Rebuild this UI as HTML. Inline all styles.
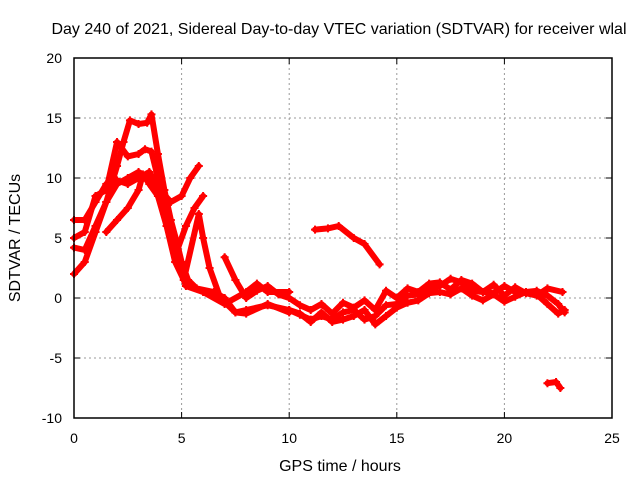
<!DOCTYPE html>
<html><head><meta charset="utf-8"><style>
body{margin:0;background:#fff}
svg{display:block;font-family:"Liberation Sans",sans-serif}
</style></head><body>
<svg id="c" width="640" height="480">
<text x="339" y="34" font-size="16" text-anchor="middle">Day 240 of 2021, Sidereal Day-to-day VTEC variation (SDTVAR) for receiver wlal</text>
<text x="340" y="471" font-size="16" text-anchor="middle">GPS time / hours</text>
<text x="0" y="0" font-size="16" text-anchor="middle" transform="translate(20,238) rotate(-90)">SDTVAR / TECUs</text>
<g id="grid"></g><g id="marks"></g>
<rect x="74" y="58" width="538" height="360" fill="none" stroke="#000" stroke-width="1.5"/>
</svg>
<script>
const xTicks=[0,5,10,15,20,25];
const yTicks=[-10,-5,0,5,10,15,20];
const traceA=[[0,2],[0.5,3],[1,5.5],[1.5,8],[2,11],[2.3,13],[2.6,14.8],[3,14.5],[3.4,14.6],[3.6,15.3],[3.9,12],[4.2,9],[4.5,6.5],[4.8,4.5],[5,3],[5.3,1.5],[5.7,0.8],[6.5,0.5],[7,0],[7.5,-1.2],[8,-1],[9,-0.6],[10,-1],[10.5,-1.4],[11,-1.8],[11.5,-1.5],[12,-1.8],[12.5,-1.2],[13,-1],[13.5,-1.8],[14,-1.5],[14.5,-0.6],[15,-0.5],[15.5,0.2],[16,0.3],[16.5,0.8],[17,1],[17.5,1.6],[18,1.3],[18.5,0.6],[19,0.5],[19.5,1.1],[20,0.2],[20.5,0.9],[21,0.4],[21.5,0.2],[22,0.8],[22.7,0.5]];
const traceB=[[0,5],[0.5,5.5],[1,8.5],[1.5,9],[2,13],[2.5,11.8],[3,12],[3.3,12.4],[3.6,12.2],[3.9,10],[4.2,8],[4.5,6],[4.8,3],[5.2,1],[6,0.5],[7,-0.5],[8,0.5],[8.5,1.2],[9,0.5],[10,0.5]];
const traceC=[[0,6.5],[0.5,6.5],[1,8],[1.5,9.5],[2,9.8],[2.5,9.5],[3,10],[3.5,10.5],[4,9],[4.5,8],[5,8.5],[5.4,10],[5.8,11]];
const traceD=[[0,4.2],[0.5,4],[1,6],[1.5,8],[2,9.5],[2.5,10],[3,10.5],[3.5,10],[3.8,9],[4.2,7],[4.5,5],[4.8,4],[5.2,6],[5.6,7.5],[6,8.5]];
const traceE=[[1.5,5.5],[2,6.5],[2.5,7.5],[3,9],[3.2,10.3],[3.5,9.5],[3.9,8.5],[4.3,6],[4.7,3],[5.1,1.5],[5.8,7],[6,5],[6.3,2.5],[6.8,0],[7.5,-1.2],[8,-1.3],[9,-0.5],[10,-1.2]];
const traceF=[[7,3.4],[7.5,1.5],[8,0],[8.5,0.6],[9,1],[9.5,0.3],[10,0],[10.5,-0.6],[11,-1],[11.5,-0.5],[12,-1.3],[12.5,-0.4],[13,-0.8],[13.5,-0.2],[14,-1],[14.5,0.6],[15,0],[15.5,0.8],[16,0.5],[16.5,1.2],[17,1.3],[17.5,0.7],[18,1.5],[18.5,1.2],[19,0.5],[19.5,0.4],[20,1],[20.5,0.5],[21,0.5],[21.5,0.6],[22,0.2],[22.5,-0.5],[22.8,-1.2]];
const traceG=[[11.2,5.7],[11.8,5.8],[12.3,6],[13,5],[13.5,4.5],[14.2,2.8]];
const traceH=[[22,-7.1],[22.4,-7],[22.6,-7.5]];
const traceI=[[10,-1],[10.5,-1.3],[11,-2],[11.5,-1.2],[12,-2],[12.5,-1.8],[13,-1.5],[13.5,-1],[14,-2.2],[14.5,-1.5],[15,-0.8],[15.5,-0.4],[16,-0.2],[16.5,0.4],[17,0.5],[17.5,0.3],[18,0.8],[18.5,0.2],[19,-0.2],[19.5,0.3],[20,-0.3],[20.5,0.1],[21,0.5],[21.5,0.3],[22,-0.5],[22.5,-1.3],[22.8,-1]];
const NS='http://www.w3.org/2000/svg';
const X=h=>74+h*538/25, Y=v=>418-(v+10)*12;
function mk(t,a,p){const e=document.createElementNS(NS,t);for(const k in a)e.setAttribute(k,a[k]);p.appendChild(e);return e;}
const g=document.getElementById('grid');
xTicks.forEach(t=>{
 if(t>0&&t<25){const l=mk('line',{x1:X(t),x2:X(t),y1:58,y2:418,stroke:'#999','stroke-dasharray':'2,3'},g);
 
 }
 mk('line',{x1:X(t),x2:X(t),y1:418,y2:412,stroke:'#000'},g);
 mk('line',{x1:X(t),x2:X(t),y1:58,y2:64,stroke:'#000'},g);
 const s=mk('text',{x:X(t),y:443,'font-size':14,'text-anchor':'middle'},g);s.textContent=t;
 
 
});
yTicks.forEach(t=>{
 if(t>-10&&t<20){const l=mk('line',{x1:74,x2:612,y1:Y(t),y2:Y(t),stroke:'#999','stroke-dasharray':'2,3'},g);
 
 }
 mk('line',{x1:74,x2:80,y1:Y(t),y2:Y(t),stroke:'#000'},g);
 mk('line',{x1:612,x2:606,y1:Y(t),y2:Y(t),stroke:'#000'},g);
 const s=mk('text',{x:62,y:Y(t)+5,'font-size':14,'text-anchor':'end'},g);s.textContent=t;
 
 
});
const m=document.getElementById('marks');
[traceA,traceB,traceC,traceD,traceE,traceF,traceG,traceH,traceI].forEach((tr,i)=>{
 const p=mk('polyline',{points:tr.map(d=>X(d[0])+','+Y(d[1])).join(' '),fill:'none',stroke:'#f00','stroke-width':6,'stroke-linejoin':'round','stroke-linecap':'round'},m);
 
 
 tr.forEach(d=>{
  const c=mk('path',{d:`M${X(d[0])-4},${Y(d[1])}h8M${X(d[0])},${Y(d[1])-4}v8`,stroke:'#f00','stroke-width':2},m);
  
  
 });
});
</script>
</body></html>
